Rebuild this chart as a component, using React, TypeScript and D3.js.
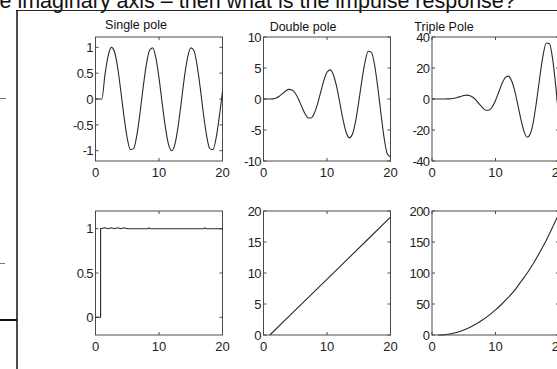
import { useEffect, useRef } from 'react';
import * as d3 from 'd3';

// sample times for the impulse responses (top row)
const tImpulse = [0, 0.5, 1, 1.5, 2, 2.5, 3, 3.5, 4, 4.5, 5, 5.5, 6, 6.5, 7, 7.5, 8, 8.5, 9, 9.5, 10,
  10.5, 11, 11.5, 12, 12.5, 13, 13.5, 14, 14.5, 15, 15.5, 16, 16.5, 17, 17.5, 18, 18.5, 19, 19.5, 20];

const ySingle = [0, 0, 0, 0.48, 0.84, 1.0, 0.91, 0.6, 0.14, -0.35, -0.76, -0.98, -0.96, -0.71, -0.28, 0.22,
  0.66, 0.94, 0.99, 0.8, 0.41, -0.08, -0.54, -0.88, -1.0, -0.88, -0.54, -0.07, 0.42, 0.8, 0.99, 0.94, 0.65,
  0.21, -0.29, -0.71, -0.96, -0.98, -0.75, -0.34, 0.15];

const yDouble = [0, 0, 0, 0.02, 0.15, 0.45, 0.87, 1.3, 1.56, 1.46, 0.93, -0.01, -1.19, -2.3, -3.02, -3.07,
  -2.31, -0.83, 1.08, 2.96, 4.31, 4.7, 3.92, 2.06, -0.52, -3.22, -5.33, -6.27, -5.69, -3.61, -0.46, 3.04,
  6.03, 7.69, 7.52, 5.44, 1.86, -2.38, -6.32, -8.86, -9.32];

const yTriple = [0, 0, 0, 0, 0.01, 0.05, 0.2, 0.51, 1.01, 1.63, 2.21, 2.47, 2.11, 0.94, -1.01, -3.44,
  -5.76, -7.22, -7.1, -4.99, -0.94, 4.37, 9.74, 13.67, 14.73, 12.05, 5.67, -3.41, -13.14, -21.03, -24.63,
  -22.29, -13.76, -0.42, 14.86, 28.31, 36.11, 35.58, 25.68, 7.99, -13.76];

// bottom row
const tStep = [0, 0.8, 0.8, 1.5, 2, 2.5, 3, 3.5, 4, 4.5, 5, 8.2, 8.4, 8.6, 17, 17.2, 17.4, 20];
const yStep = [0, 0, 1, 1.01, 1, 1.01, 1, 1.01, 1, 1.01, 1, 1, 1.01, 1, 1, 1.01, 1, 1];

const tRamp = [1, 4, 8, 12, 16, 20];
const yRamp = [0, 3, 7, 11, 15, 19];

const tQuad = [1, 2, 3, 4, 5, 6, 7, 8, 9, 10, 11, 12, 13, 14, 15, 16, 17, 18, 19, 20];
const yQuad = [0, 0.5, 2, 4.5, 8, 12.5, 18, 24.5, 32, 40.5, 50, 60.5, 72, 86, 100, 116, 134, 153, 174, 196];

const xTicks = [0, 10, 20];
const titles = ['Single pole', 'Double pole', 'Triple Pole'];
const headline = 'e imaginary axis \u2013 then what is the impulse response?';

const panels = [
  { col: 0, row: 0, t: tImpulse, y: ySingle, dom: [-1.2, 1.2], ticks: [-1, -0.5, 0, 0.5, 1], smooth: true },
  { col: 1, row: 0, t: tImpulse, y: yDouble, dom: [-10, 10], ticks: [-10, -5, 0, 5, 10], smooth: true },
  { col: 2, row: 0, t: tImpulse, y: yTriple, dom: [-40, 40], ticks: [-40, -20, 0, 20, 40], smooth: true },
  { col: 0, row: 1, t: tStep, y: yStep, dom: [-0.2, 1.2], ticks: [0, 0.5, 1], smooth: false },
  { col: 1, row: 1, t: tRamp, y: yRamp, dom: [0, 20], ticks: [0, 5, 10, 15, 20], smooth: false },
  { col: 2, row: 1, t: tQuad, y: yQuad, dom: [0, 200], ticks: [0, 50, 100, 150, 200], smooth: true },
];

const FONT = '"Liberation Sans", Arial, sans-serif';

const App = () => {
  const svgRef = useRef<SVGSVGElement>(null);

  useEffect(() => {
    const width = 557;
    const height = 369;
    const svg = d3.select(svgRef.current).attr('width', width).attr('height', height);
    svg.selectAll('*').remove();

    // slide fragment: heading + frame
    svg.append('text')
      .attr('x', -0.5).attr('y', 8)
      .attr('font-family', FONT).attr('font-size', 21.5)
      .attr('fill', '#111')
      .text(headline);

    svg.append('line').attr('x1', 16).attr('x2', width).attr('y1', 10.5).attr('y2', 10.5)
      .attr('stroke', '#222').attr('stroke-width', 1);
    svg.append('line').attr('x1', 17).attr('x2', 17).attr('y1', 10).attr('y2', height)
      .attr('stroke', '#111').attr('stroke-width', 1.5);
    svg.append('line').attr('x1', 0).attr('x2', 6).attr('y1', 98.5).attr('y2', 98.5)
      .attr('stroke', '#777').attr('stroke-width', 1);
    svg.append('line').attr('x1', 0).attr('x2', 5).attr('y1', 263.5).attr('y2', 263.5)
      .attr('stroke', '#777').attr('stroke-width', 1);
    svg.append('line').attr('x1', 0).attr('x2', 17).attr('y1', 320).attr('y2', 320)
      .attr('stroke', '#111').attr('stroke-width', 2);

    // subplot geometry
    const colX = [95.5, 263.5, 432];
    const rowY = [37, 211];
    const pw = 127;
    const ph = 124;
    const tick = 3;

    panels.forEach(p => {
      const x0 = colX[p.col];
      const y0 = rowY[p.row];
      const x = d3.scaleLinear().domain([0, 20]).range([x0, x0 + pw]);
      const y = d3.scaleLinear().domain(p.dom).range([y0 + ph, y0]);
      const g = svg.append('g');

      g.append('rect')
        .attr('x', x0).attr('y', y0).attr('width', pw).attr('height', ph)
        .attr('fill', 'none').attr('stroke', '#4a4a4a').attr('stroke-width', 1);

      // x ticks (inward, bottom and top)
      xTicks.forEach(v => {
        const xp = x(v);
        g.append('line').attr('x1', xp).attr('x2', xp).attr('y1', y0 + ph).attr('y2', y0 + ph - tick)
          .attr('stroke', '#4a4a4a');
        g.append('line').attr('x1', xp).attr('x2', xp).attr('y1', y0).attr('y2', y0 + tick)
          .attr('stroke', '#4a4a4a');
        g.append('text')
          .attr('x', xp).attr('y', y0 + ph + 16)
          .attr('text-anchor', 'middle')
          .attr('font-family', FONT).attr('font-size', 13).attr('fill', '#222')
          .text(String(v));
      });

      // y ticks (inward, left and right)
      p.ticks.forEach(v => {
        const yp = y(v);
        g.append('line').attr('x1', x0).attr('x2', x0 + tick).attr('y1', yp).attr('y2', yp)
          .attr('stroke', '#4a4a4a');
        g.append('line').attr('x1', x0 + pw).attr('x2', x0 + pw - tick).attr('y1', yp).attr('y2', yp)
          .attr('stroke', '#4a4a4a');
        g.append('text')
          .attr('x', x0 - 2.5).attr('y', yp).attr('dy', '0.36em')
          .attr('text-anchor', 'end')
          .attr('font-family', FONT).attr('font-size', 13).attr('fill', '#222')
          .attr('letter-spacing', -0.6)
          .text(String(v));
      });

      const pts: [number, number][] = p.t.map((t, i) => [t, p.y[i]]);
      const line = d3.line<[number, number]>()
        .x(d => x(d[0]))
        .y(d => y(d[1]))
        .curve(p.smooth ? d3.curveMonotoneX : d3.curveLinear);

      g.append('path')
        .attr('d', line(pts))
        .attr('fill', 'none')
        .attr('stroke', '#2a2a2a')
        .attr('stroke-width', 1.1);
    });

    // titles (sit a bit left of the panel centres in the source)
    const titleX = [136, 303, 444];
    const titleY = [28.5, 30.5, 30.5];
    titles.forEach((t, i) => {
      svg.append('text')
        .attr('x', titleX[i]).attr('y', titleY[i])
        .attr('text-anchor', 'middle')
        .attr('font-family', FONT).attr('font-size', 12.5).attr('fill', '#111')
        .text(t);
    });
  }, []);

  return (
    <div style={{ position: 'absolute', left: 0, top: 0, width: 557, height: 369, overflow: 'hidden', background: '#fff' }}>
      <svg ref={svgRef} style={{ display: 'block' }}></svg>
    </div>
  );
};

export default App;
